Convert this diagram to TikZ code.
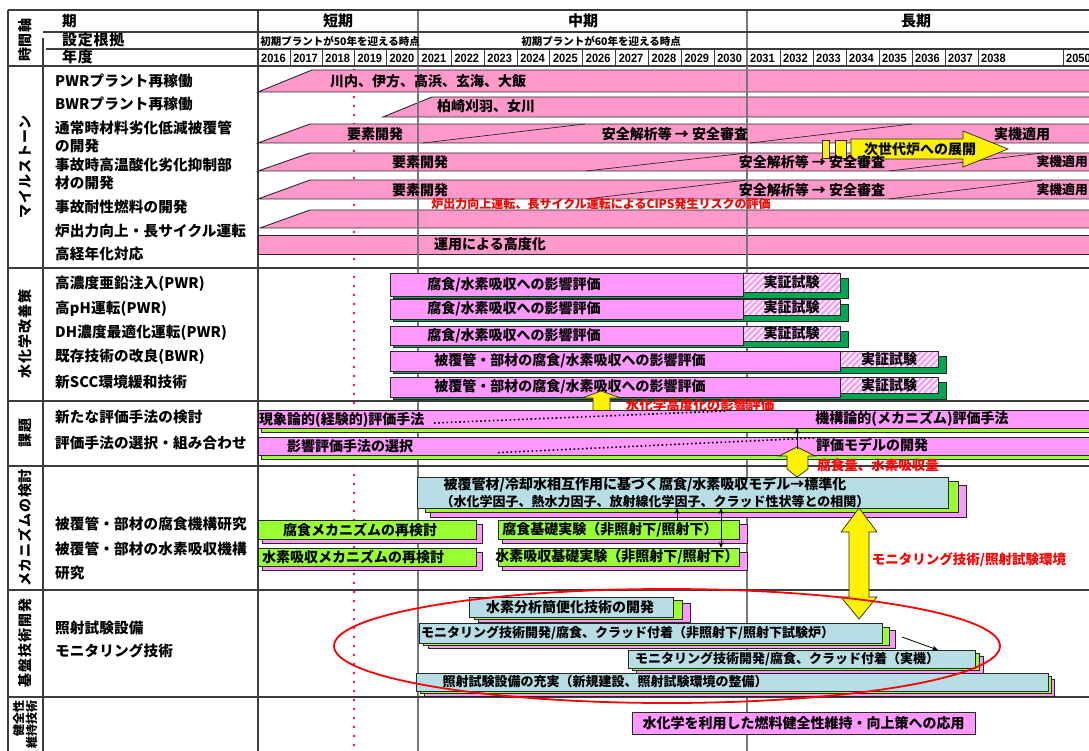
\documentclass[tikz,border=0pt]{standalone}
\usepackage{fontspec}
\setmainfont{Noto Sans CJK JP}
\newfontfamily\yearfont{Liberation Sans}[FakeStretch=0.92]
\usetikzlibrary{calc,arrows.meta}

\definecolor{mspink}{RGB}{255,153,204}
\definecolor{wcpink}{RGB}{255,153,255}
\definecolor{shgreen}{RGB}{0,166,81}
\definecolor{ltgreen}{RGB}{153,255,51}
\definecolor{ltblue}{RGB}{183,222,228}
\definecolor{gridgray}{RGB}{120,120,120}
\definecolor{rulecol}{RGB}{60,60,60}
\definecolor{dotpink}{RGB}{236,0,120}
\definecolor{edge}{RGB}{40,40,40}

\begin{document}
\begin{tikzpicture}[x=1pt,y=-1pt,
  rule/.style={draw=rulecol,line width=1.3pt},
  gridln/.style={draw=gridgray,line width=1.2pt},
  tickln/.style={draw=rulecol,line width=0.9pt},
  msbar/.style={fill=mspink,draw=edge,line width=0.9pt},
  phase/.style={draw=edge,line width=0.7pt},
  wcbox/.style={fill=wcpink,draw=edge,line width=0.9pt},
  gbox/.style={fill=ltgreen,draw=edge,line width=0.9pt},
  bbox/.style={fill=ltblue,draw=edge,line width=0.9pt},
  dkshadow/.style={fill=shgreen,draw=edge,line width=0.6pt},
  pkshadow/.style={fill=wcpink,draw=edge,line width=0.6pt},
  lgshadow/.style={fill=ltgreen,draw=edge,line width=0.6pt},
  hatchbox/.style={fill=white,draw=edge,line width=0.9pt,
    path picture={\foreach \k in {-30,-24,...,130}{\draw[wcpink,line width=2.2pt]
      ([xshift=\k pt]path picture bounding box.south west) -- ++(28,-28);}}},
  ylw/.style={fill=yellow,draw=edge,line width=0.7pt},
  bx/.style 2 args={minimum width=#1pt,minimum height=#2pt,anchor=north west,inner sep=0pt,outer sep=0pt},
  lbl/.style={anchor=west,inner sep=0pt,font=\fontsize{14.6}{17}\selectfont\bfseries\addfontfeature{LetterSpace=1}},
  cat/.style={rotate=90,inner sep=0pt,font=\fontsize{14}{16}\selectfont\bfseries\addfontfeature{LetterSpace=6}},
  hdr/.style={inner sep=0pt,font=\fontsize{15}{17}\selectfont\bfseries},
  subhdr/.style={inner sep=0pt,font=\fontsize{10.5}{12}\selectfont\bfseries},
  yr/.style={anchor=base west,inner sep=0pt,font=\yearfont\fontsize{12}{13}\selectfont\bfseries},
  btx/.style={inner sep=0pt,font=\fontsize{14}{16}\selectfont\bfseries},
  stx/.style={inner sep=0pt,font=\fontsize{13}{15}\selectfont\bfseries},
  rtx/.style={inner sep=0pt,text=red,font=\fontsize{13.5}{15}\selectfont\bfseries},
  thin/.style={-{Stealth[length=6pt,width=5pt]},line width=0.8pt,draw=black},
  thinboth/.style={{Stealth[length=6pt,width=5pt]}-{Stealth[length=6pt,width=5pt]},line width=0.8pt,draw=black},
  dots/.style={draw=black,line width=1.6pt,dash pattern=on 1.6pt off 2.6pt}
]
\clip (0,0) rectangle (1089,751);
\fill[white] (0,0) rectangle (1089,751);

% ---------- reference year marker ----------
\draw[dotpink,line width=2.6pt,line cap=round,dash pattern=on 0pt off 9pt] (354,70) -- (354,760);

% ---------- grid ----------
\draw[gridln] (418,10) -- (418,760);
\draw[gridln] (747,10) -- (747,760);
\draw[rule] (8,10) -- (1100,10);
\draw[rule] (8,10) -- (8,760);
\draw[rule] (258,10) -- (258,760);
\draw[rule] (43,38) -- (43,760);
\draw[rule] (43,32) -- (1100,32);
\draw[rule] (46,49) -- (1100,49);
\draw[rule] (8,66) -- (1100,66);
\foreach \yy in {268,401,466,590,697} \draw[rule] (8,\yy) -- (1100,\yy);

% year ticks
\foreach \k in {1,...,4} \draw[tickln] ({258+32.1*\k},49) -- ({258+32.1*\k},66);
\foreach \k in {1,...,9} \draw[tickln] ({418.5+32.85*\k},49) -- ({418.5+32.85*\k},66);
\foreach \k in {1,...,7} \draw[tickln] ({747+33*\k},49) -- ({747+33*\k},66);
\draw[tickln] (1063,49) -- (1063,66);

% ---------- header ----------
\node[cat] (c0) at (25,40) {時間軸};
\node[lbl] (h1) at (62,21) {期};
\node[lbl,font=\fontsize{15}{17}\selectfont\bfseries\addfontfeature{LetterSpace=5}] (h2) at (62,40) {設定根拠};
\node[lbl,font=\fontsize{15}{17}\selectfont\bfseries\addfontfeature{LetterSpace=5}] (h3) at (62,57) {年度};
\node[hdr] (p1) at (338,21) {短期};
\node[hdr] (p2) at (583,21) {中期};
\node[hdr] (p3) at (916,21) {長期};
\node[subhdr] (s1) at (340,41) {初期プラントが50年を迎える時点};
\node[subhdr] (s2) at (601,41) {初期プラントが60年を迎える時点};
\foreach \yr [count=\i from 0] in {2016,...,2020} \node[yr] (yr\yr) at ({258+32.1*\i+3},63) {\yr};
\foreach \yr [count=\i from 0] in {2021,...,2030} \node[yr] (yr\yr) at ({418.5+32.85*\i+3},63) {\yr};
\foreach \yr [count=\i from 0] in {2031,...,2038} \node[yr] (yr\yr) at ({747+33*\i+3},63) {\yr};
\node[yr] (yr2050) at (1066,63) {2050};

% ---------- milestones ----------
\node[cat] (c1) at (25,167) {マイルストーン};
\node[lbl] (l1) at (55,81) {PWRプラント再稼働};
\node[lbl] (l2) at (55,104) {BWRプラント再稼働};
\node[lbl] (l3) at (55,128) {通常時材料劣化低減被覆管};
\node[lbl] (l3b) at (55,146) {の開発};
\node[lbl] (l4) at (55,165) {事故時高温酸化劣化抑制部};
\node[lbl] (l4b) at (55,183) {材の開発};
\node[lbl] (l5) at (55,207) {事故耐性燃料の開発};
\node[lbl] (l6) at (55,231) {炉出力向上・長サイクル運転};
\node[lbl] (l7) at (55,254) {高経年化対応};

\filldraw[msbar] (258,92) -- (312,70) -- (1100,70) -- (1100,92) -- cycle;
\filldraw[msbar] (383,117) -- (432,97) -- (1100,97) -- (1100,117) -- cycle;
\filldraw[msbar] (258,143) -- (310,124) -- (1100,124) -- (1100,143) -- cycle;
\filldraw[msbar] (258,171) -- (310,153) -- (1100,153) -- (1100,171) -- cycle;
\filldraw[msbar] (258,199) -- (310,180) -- (1100,180) -- (1100,199) -- cycle;
\filldraw[msbar] (260,228) -- (310,210) -- (1100,210) -- (1100,228) -- cycle;
\filldraw[msbar] (258,235) rectangle (1100,254);
\draw[phase] (423,143) -- (585,124);
\draw[phase] (750,143) -- (912,124);
\draw[phase] (586,171) -- (747,153);
\draw[phase] (889,171) -- (1042,153);
\draw[phase] (586,199) -- (747,180);
\draw[phase] (889,199) -- (1042,180);
\draw[gridln] (418,66) -- (418,268);
\draw[gridln] (747,66) -- (747,268);

% next-generation reactor arrow
\filldraw[ylw] (822,140) rectangle (829,158);
\filldraw[ylw] (835,140) rectangle (846,158);
\filldraw[ylw] (851,139) -- (963,139) -- (963,131) -- (1008,149) -- (963,167) -- (963,159) -- (851,159) -- cycle;
\node[btx] (ng) at (920,149) {次世代炉への展開};

\node[btx,anchor=west] (m1t) at (330,81) {川内、伊方、高浜、玄海、大飯};
\node[btx,anchor=west] (m2t) at (437,106) {柏崎刈羽、女川};
\node[btx] (m3a) at (375,134) {要素開発};
\node[btx] (m3b) at (675,134) {安全解析等 → 安全審査};
\node[btx] (m3c) at (1022,134) {実機適用};
\node[btx] (m4a) at (420,162) {要素開発};
\node[btx] (m4b) at (812,162) {安全解析等 → 安全審査};
\node[btx,anchor=east,font=\fontsize{12.8}{15}\selectfont\bfseries] (m4c) at (1088,162) {実機適用};
\node[btx] (m5a) at (420,190) {要素開発};
\node[btx] (m5b) at (812,190) {安全解析等 → 安全審査};
\node[btx,anchor=east,font=\fontsize{12.8}{15}\selectfont\bfseries] (m5c) at (1088,190) {実機適用};
\node[rtx,font=\fontsize{12}{13}\selectfont\bfseries] (m5r) at (601,204) {炉出力向上運転、長サイクル運転によるCIPS発生リスクの評価};
\node[btx] (m7t) at (490,244) {運用による高度化};

% ---------- water chemistry ----------
\node[cat] (c2) at (25,334) {水化学改善策};
\node[lbl] (w1) at (55,284) {高濃度亜鉛注入(PWR)};
\node[lbl] (w2) at (55,309) {高pH運転(PWR)};
\node[lbl] (w3) at (55,333) {DH濃度最適化運転(PWR)};
\node[lbl] (w4) at (55,357) {既存技術の改良(BWR)};
\node[lbl] (w5) at (55,382) {新SCC環境緩和技術};

\foreach \r/\T/\B/\Xa/\Xb in {1/273/296/743/840,2/299/319/743/840,3/326/345/743/840,4/351/371/840/938,5/377/397/840/938}{
  \filldraw[dkshadow] (393,\T+5) rectangle (\Xb+8,\B+2);
  \node[wcbox,bx={\Xa-390}{\B-\T}] (wc\r) at (390,\T) {};
  \node[hatchbox,bx={\Xb-\Xa}{\B-\T-4}] (ht\r) at (\Xa,\T) {};
  \node[btx] (htt\r) at (ht\r.center) {実証試験};
}
\foreach \r in {1,2,3} \node[btx] (wct\r) at (wc\r.center -| 514,0) {腐食/水素吸収への影響評価};
\foreach \r in {4,5} \node[btx] (wct\r) at (wc\r.center -| 570,0) {被覆管・部材の腐食/水素吸収への影響評価};

\filldraw[ylw] (601,391) -- (621,398) -- (610,398) -- (610,417) -- (593,417) -- (593,398) -- (582,398) -- cycle;
\node[rtx] (wcr) at (700,405) {水化学高度化の影響評価};

% ---------- evaluation methods ----------
\node[cat] (c3) at (25,433) {課題};
\node[lbl] (e1) at (55,417) {新たな評価手法の検討};
\node[lbl] (e2) at (55,443) {評価手法の選択・組み合わせ};
\filldraw[lgshadow] (261,414) rectangle (1100,432);
\node[wcbox,bx={842}{18}] (ea) at (258,410) {};
\filldraw[lgshadow] (261,441) rectangle (1100,459);
\node[wcbox,bx={842}{18}] (eb) at (258,437) {};
\node[btx,anchor=west] (ea1) at (259,420) {現象論的(経験的)評価手法};
\node[btx] (ea2) at (912,419) {機構論的(メカニズム)評価手法};
\draw[dots] (434,423) -- (726,411);
\node[btx] (eb1) at (350,446) {影響評価手法の選択};
\node[btx] (eb2) at (872,445) {評価モデルの開発};
\draw[dots] (498,452.6) -- (814,438);

\coordinate (ys) at (797,449);
\filldraw[ylw] (797,447) -- (815,456) -- (808,456) -- (808,469) -- (797,477) -- (787,469) -- (787,456) -- (779,456) -- cycle;
\draw[thin] (ys) -- (ea.south -| ys);
\node[rtx] (er) at (878,465) {腐食量、水素吸収量};

% ---------- mechanisms ----------
\node[cat] (c4) at (25,528) {メカニズムの検討};
\node[lbl] (k1) at (55,524) {被覆管・部材の腐食機構研究};
\node[lbl] (k2) at (55,549) {被覆管・部材の水素吸収機構};
\node[lbl] (k3) at (55,573) {研究};

\filldraw[pkshadow] (430,485) rectangle (966,517);
\filldraw[lgshadow] (425,481) rectangle (958,512);
\node[bbox,bx={531}{31}] (mm) at (417,477) {};
\node[btx] (mm1) at (645,485) {被覆管材/冷却水相互作用に基づく腐食/水素吸収モデル→標準化};
\node[stx] (mm2) at (655,502) {（水化学因子、熱水力因子、放射線化学因子、クラッド性状等との相関）};

\filldraw[pkshadow] (262,524) rectangle (482,543);
\node[gbox,bx={218}{19}] (g1) at (258,520) {};
\filldraw[pkshadow] (262,552) rectangle (482,570);
\node[gbox,bx={218}{18}] (g2) at (258,548) {};
\filldraw[pkshadow] (502,524) rectangle (747,543);
\node[gbox,bx={241}{19}] (g3) at (498,520) {};
\filldraw[pkshadow] (502,552) rectangle (747,570);
\node[gbox,bx={241}{18}] (g4) at (498,548) {};
\node[btx] (g1t) at (360,530) {腐食メカニズムの再検討};
\node[btx] (g2t) at (353,557) {水素吸収メカニズムの再検討};
\node[btx] (g3t) at (610,530) {腐食基礎実験（非照射下/照射下）};
\node[btx] (g4t) at (617,557) {水素吸収基礎実験（非照射下/照射下）};

\coordinate (ax1) at (677,0);
\coordinate (ax2) at (721,0);
\draw[thin] (g3.north -| ax1) -- (mm.south -| ax1);
\draw[thinboth] (mm.south -| ax2) -- (g4.north -| ax2);

% ---------- base technology ----------
\node[cat] (c5) at (25,643) {基盤技術開発};
\node[lbl] (b1l) at (55,628) {照射試験設備};
\node[lbl] (b2l) at (55,651) {モニタリング技術};

\filldraw[pkshadow] (478,603) rectangle (690,622);
\filldraw[lgshadow] (474,600) rectangle (682,619);
\node[bbox,bx={204}{20}] (b1) at (469,597) {};
\filldraw[pkshadow] (428,630) rectangle (895,648);
\filldraw[lgshadow] (423,627) rectangle (889,645);
\node[bbox,bx={463}{20}] (b2) at (419,623) {};
\filldraw[pkshadow] (636,656) rectangle (983,673);
\filldraw[lgshadow] (632,653) rectangle (979,670);
\node[bbox,bx={347}{18}] (b3) at (628,650) {};
\filldraw[pkshadow] (424,679) rectangle (1054,696);
\filldraw[lgshadow] (420,676) rectangle (1051,693);
\node[bbox,bx={632}{18}] (b4) at (416,673) {};
\node[btx] (b1t) at (570,607) {水素分析簡便化技術の開発};
\node[stx,anchor=west] (b2t) at (421,633) {モニタリング技術開発/腐食、クラッド付着（非照射下/照射下試験炉）};
\node[stx] (b3t) at (787,659) {モニタリング技術開発/腐食、クラッド付着（実機）};
\node[stx] (b4t) at (605,682) {照射試験設備の充実（新規建設、照射試験環境の整備）};

\coordinate (a4s) at (902,637);
\draw[thin] (a4s) -- ($(b3.north west)+(310,0)$);

% monitoring / irradiation link
\filldraw[ylw] (859,508) -- (877,532) -- (869,532) -- (869,597) -- (877,597) -- (859,619) -- (841,597) -- (849,597) -- (849,532) -- (841,532) -- cycle;
\node[rtx] (br) at (969,560) {モニタリング技術/照射試験環境};

\draw[red,line width=1.8pt] (667,646) ellipse [x radius=333,y radius=57];

% ---------- fuel integrity ----------
\node[cat,anchor=east,align=right,font=\fontsize{12}{13}\selectfont\bfseries] (c6) at (25,700) {健全性\\維持技術};
\node[wcbox,bx={343}{22}] (hb) at (632,712) {};
\node[btx] (hbt) at (hb.center) {水化学を利用した燃料健全性維持・向上策への応用};

\end{tikzpicture}
\end{document}
